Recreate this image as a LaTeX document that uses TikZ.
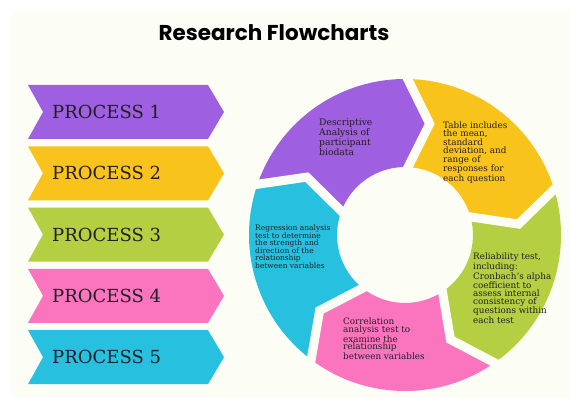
\documentclass[tikz,border=0pt]{standalone}
\usepackage{fontspec}
\setmainfont{DejaVu Serif}
\newfontfamily\titlefont{Poppins}
\definecolor{panel}{RGB}{252,253,244}
\definecolor{cpurple}{RGB}{158,95,224}
\definecolor{cyellow}{RGB}{248,195,26}
\definecolor{cgreen}{RGB}{181,207,66}
\definecolor{cpink}{RGB}{250,116,190}
\definecolor{ccyan}{RGB}{39,192,223}
\definecolor{ink}{RGB}{34,30,36}
\begin{document}
\begin{tikzpicture}[x=1pt,y=1pt,
  procbox/.style={fill=#1},
  proclabel/.style={anchor=west,inner sep=0pt,text=ink,font=\fontsize{18}{20}\selectfont},
  ringtext/.style={anchor=north west,inner sep=0pt,align=left,text=ink,
    font=\fontsize{8.8}{7.7}\selectfont},
  gapline/.style={draw=panel,line width=9pt,line join=miter}]
% page and panel
\fill[white] (0,0) rectangle (570,398);
\useasboundingbox (0,0) rectangle (570,398);
\fill[panel] (11,0) rectangle (570,387);
% title
\node[font=\titlefont\bfseries\fontsize{21.5}{26}\selectfont,text=black] (title) at (274,365) {Research Flowcharts};
% process chevrons on the left
\foreach \i/\c in {1/cpurple,2/cyellow,3/cgreen,4/cpink,5/ccyan}{
  \pgfmathsetmacro\top{398-85-61.3*(\i-1)}
  \pgfmathsetmacro\bot{\top-54}
  \pgfmathsetmacro\mid{\top-27}
  \fill[procbox=\c] (28,\top) -- (208,\top) -- (224,\mid) -- (208,\bot) -- (28,\bot) -- (43,\mid) -- cycle;
  \node[proclabel] (p\i) at (52,\mid) {PROCESS \i};
}
% cycle ring: each segment runs clockwise from angle \b to \b-72
\def\R{156}\def\r{68}\def\Rm{114}\def\d{11}
\begin{scope}[shift={(405,163)}]
  \foreach \b/\c in {160.5/cpurple,88.5/cyellow,16.5/cgreen,-55.5/cpink,-127.5/ccyan}{
    \pgfmathsetmacro\e{\b-72}
    \fill[\c] (\b:\R) arc[start angle=\b,end angle=\e,radius=\R]
      -- (\e-\d:\Rm) -- (\e:\r)
      arc[start angle=\e,end angle=\b,radius=\r]
      -- (\b-\d:\Rm) -- cycle;
  }
  % gaps between the arrow segments
  \foreach \b in {88.5,16.5,-55.5,-127.5,160.5}{
    \draw[gapline] (\b+1.6:\R+6) -- (\b-\d:\Rm) -- (\b+1.4:\r-6);
  }
\end{scope}
% texts on the ring
\node[ringtext,font=\fontsize{9.2}{8.3}\selectfont] (t1) at (319,279) {Descriptive\\Analysis of\\participant\\biodata};
\node[ringtext] (t2) at (443,276) {Table includes\\the mean,\\standard\\deviation, and\\range of\\responses for\\each question};
\node[ringtext] (t3) at (473,145) {Reliability test,\\including:\\Cronbach's alpha\\coefficient to\\assess internal\\consistency of\\questions within\\each test};
\node[ringtext] (t4) at (343,80) {Correlation\\analysis test to\\examine the\\relationship\\between variables};
\node[ringtext,font=\fontsize{7.5}{6.8}\selectfont] (t5) at (255,173.5) {Regression analysis\\test to determine\\the strength and\\direction of the\\relationship\\between variables};
\end{tikzpicture}
\end{document}
